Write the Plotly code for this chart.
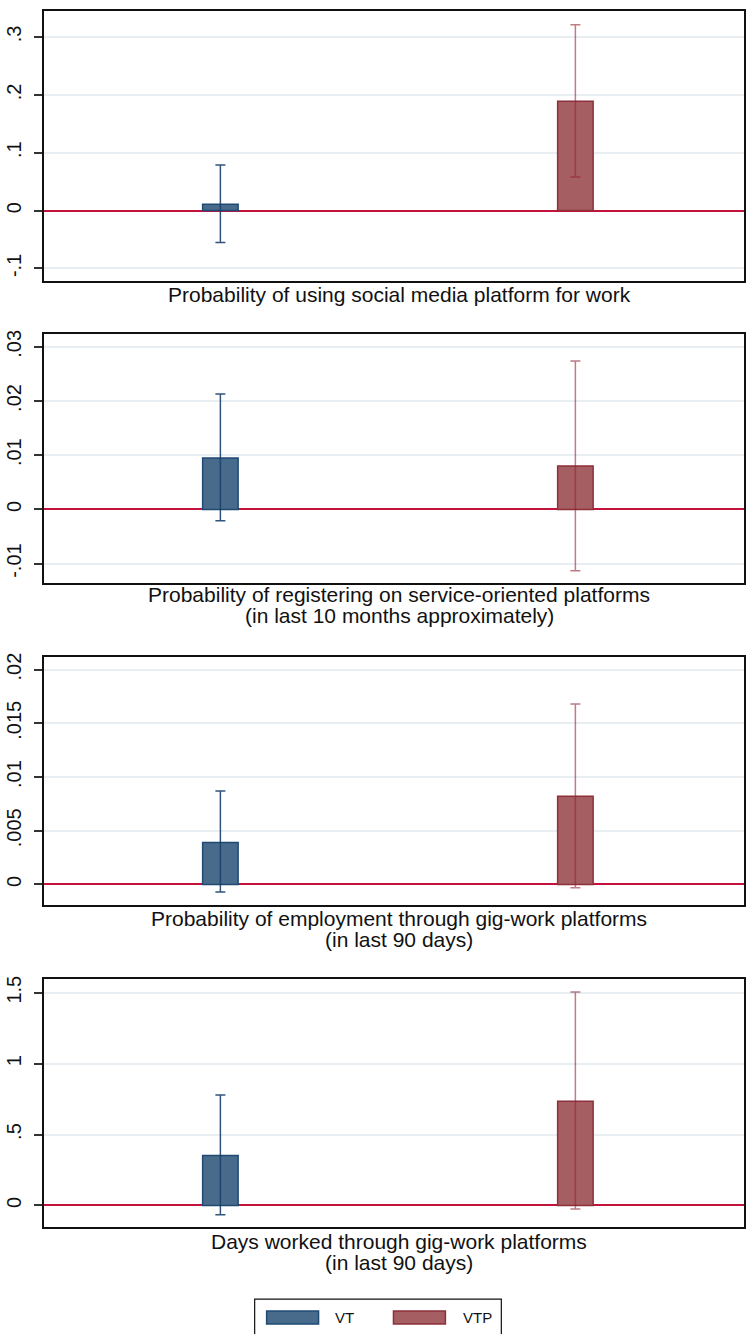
import plotly.graph_objects as go

# Treatment arms
groups = ["VT", "VTP"]

# Outcome labels (one list of caption lines per panel)
captions = [
    ["Probability of using social media platform for work"],
    ["Probability of registering on service-oriented platforms",
     "(in last 10 months approximately)"],
    ["Probability of employment through gig-work platforms",
     "(in last 90 days)"],
    ["Days worked through gig-work platforms",
     "(in last 90 days)"],
]

# Point estimates per panel: [VT, VTP]
coef_social = [0.011, 0.189]
coef_register = [0.0095, 0.0080]
coef_employ = [0.0039, 0.0082]
coef_days = [0.353, 0.734]

# 95% confidence bounds per panel: [VT, VTP]
lo_social = [-0.055, 0.058]
hi_social = [0.079, 0.321]
lo_register = [-0.0021, -0.0113]
hi_register = [0.0213, 0.0274]
lo_employ = [-0.0007, -0.0003]
hi_employ = [0.0087, 0.0168]
lo_days = [-0.066, -0.024]
hi_days = [0.779, 1.505]

# Y-axis ticks per panel
ytick_social = [-0.1, 0, 0.1, 0.2, 0.3]
ylab_social = ["-.1", "0", ".1", ".2", ".3"]
ytick_register = [-0.01, 0, 0.01, 0.02, 0.03]
ylab_register = ["-.01", "0", ".01", ".02", ".03"]
ytick_employ = [0, 0.005, 0.01, 0.015, 0.02]
ylab_employ = ["0", ".005", ".01", ".015", ".02"]
ytick_days = [0, 0.5, 1, 1.5]
ylab_days = ["0", ".5", "1", "1.5"]

# ---- styling / layout ----
W, H = 746, 1334
FONT = "Liberation Sans, Arial, Helvetica, sans-serif"
fills = ["#486b8c", "#a55e62"]
edges = ["#1f4a73", "#8e2f3a"]
whisk = ["rgba(25,65,108,0.9)", "rgba(150,35,50,0.6)"]
ZERO = "#c5123d"
GRID = "#e8eef1"

panels = [
    dict(coef=coef_social, lo=lo_social, hi=hi_social, tv=ytick_social,
         tt=ylab_social, yr=[-0.122, 0.345], px=(7, 278), cap=(291,)),
    dict(coef=coef_register, lo=lo_register, hi=hi_register, tv=ytick_register,
         tt=ylab_register, yr=[-0.01363, 0.03236], px=(331, 581), cap=(592, 613)),
    dict(coef=coef_employ, lo=lo_employ, hi=hi_employ, tv=ytick_employ,
         tt=ylab_employ, yr=[-0.00194, 0.02117], px=(655, 904), cap=(917, 938)),
    dict(coef=coef_days, lo=lo_days, hi=hi_days, tv=ytick_days,
         tt=ylab_days, yr=[-0.154, 1.596], px=(978, 1227), cap=(1241, 1262)),
]

positions = [1, 2]          # category slots on the x scale
x_left, x_right = 44, 745   # plot area in pixels
cap_center = 400

fig = go.Figure()
annotations = []
layout_axes = {}

for i, p in enumerate(panels):
    n = "" if i == 0 else str(i + 1)
    xa, ya = "x" + n, "y" + n
    for g in range(len(groups)):
        v = p["coef"][g]
        fig.add_trace(go.Bar(
            x=[positions[g]], y=[v], width=0.1,
            name=groups[g], showlegend=False,
            marker=dict(color=fills[g], line=dict(color=edges[g], width=1.5)),
            error_y=dict(type="data", symmetric=False,
                         array=[p["hi"][g] - v], arrayminus=[v - p["lo"][g]],
                         color=whisk[g], thickness=1.5, width=5),
            xaxis=xa, yaxis=ya,
        ))
    top, bot = p["px"]
    layout_axes["xaxis" + n] = dict(
        domain=[x_left / W, x_right / W], range=[0.503, 2.475],
        showticklabels=False, ticks="", showgrid=False, zeroline=False,
        showline=True, mirror=True, linecolor="#111", linewidth=1.5,
        anchor=ya, fixedrange=True,
    )
    layout_axes["yaxis" + n] = dict(
        domain=[1 - bot / H, 1 - top / H], range=p["yr"], anchor=xa,
        tickmode="array", tickvals=p["tv"], ticktext=p["tt"], tickangle=-90,
        ticks="outside", ticklen=8, tickwidth=1.5, tickcolor="#333",
        ticklabelstandoff=5,
        tickfont=dict(family=FONT, size=20, color="#111"),
        showgrid=True, gridcolor=GRID, gridwidth=1.5,
        zeroline=True, zerolinecolor=ZERO, zerolinewidth=2,
        showline=True, mirror=True, linecolor="#111", linewidth=2,
        fixedrange=True,
    )
    for line, yc in zip(captions[i], p["cap"]):
        annotations.append(dict(
            text=line, x=cap_center / W, y=1 - yc / H, xref="paper", yref="paper",
            xanchor="center", yanchor="middle", showarrow=False,
            font=dict(family=FONT, size=21, color="#111"),
        ))

# Legend box at the bottom
shapes = [dict(type="rect", xref="paper", yref="paper",
               x0=255 / W, x1=502 / W, y0=1 - 1345 / H, y1=1 - 1299 / H,
               line=dict(color="#111", width=1.2), fillcolor="white")]
legend_items = [(267, 319, 333), (394, 446, 462)]
for g, (sx0, sx1, tx) in enumerate(legend_items):
    shapes.append(dict(type="rect", xref="paper", yref="paper",
                       x0=sx0 / W, x1=sx1 / W, y0=1 - 1324 / H, y1=1 - 1311 / H,
                       line=dict(color=edges[g], width=1.5), fillcolor=fills[g]))
    annotations.append(dict(
        text=groups[g], x=tx / W, y=1 - 1317.5 / H, xref="paper", yref="paper",
        xanchor="left", yanchor="middle", showarrow=False,
        font=dict(family=FONT, size=15, color="#111"),
    ))

fig.update_layout(
    width=W, height=H, margin=dict(l=0, r=0, t=0, b=0),
    paper_bgcolor="white", plot_bgcolor="white",
    showlegend=False, barmode="overlay",
    annotations=annotations, shapes=shapes,
    **layout_axes,
)

fig.write_html("out.html")
